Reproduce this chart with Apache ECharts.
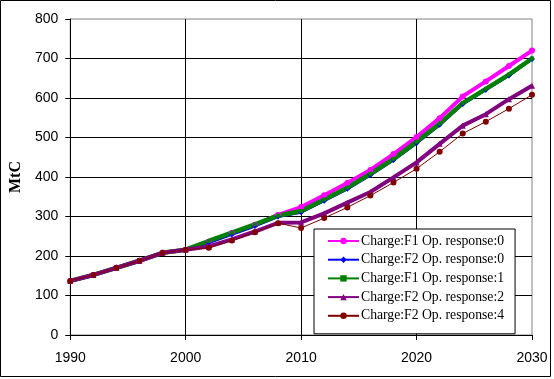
<!DOCTYPE html>
<html>
<head>
<meta charset="utf-8">
<script src="https://cdn.jsdelivr.net/npm/echarts@6/dist/echarts.min.js"></script>
<style>
html,body{margin:0;padding:0;background:#fff;}
#c{width:554px;height:379px;}
</style>
</head>
<body>
<div id="c"></div>
<script>
const years = [1990,1992,1994,1996,1998,2000,2002,2004,2006,2008,2010,2012,2014,2016,2018,2020,2022,2024,2026,2028,2030];
const seriesNames = ['Charge:F1 Op. response:0','Charge:F2 Op. response:0','Charge:F1 Op. response:1','Charge:F2 Op. response:2','Charge:F2 Op. response:4'];
const f1r0 = [137,152,170,188,208,216,236,258,279,304,324,354,385,418,458,501,549,604,642,681,720];
const f2r0 = [137,152,170,188,208,216,234,255,276,300,311,340,370,405,443,486,532,585,621,657,699];
const f1r1 = [137,152,170,188,208,216,238,259,280,302,314,343,373,408,446,489,535,587,623,659,700];
const f2r2 = [137,152,170,188,208,216,224,242,262,284,285,308,335,362,399,437,484,530,559,597,631];
const f2r4 = [137,152,170,188,208,216,221,239,260,283,271,296,323,353,386,421,464,510,540,573,608];
const yTicks = [0,100,200,300,400,500,600,700,800];
const xTicks = [1990,2000,2010,2020,2030];

const pairs = v => years.map((y,i)=>[y,v[i]]);
const chart = echarts.init(document.getElementById('c'));
const styles = [
  {color:'#FF00FF', w:4, sym:'circle', size:6},
  {color:'#0000FF', w:3, sym:'diamond', size:6},
  {color:'#008000', w:4.5, sym:'rect', size:4},
  {color:'#800080', w:4, sym:'triangle', size:6},
  {color:'#800000', w:1, sym:'circle', size:6}
];
const data = [f1r0,f2r0,f1r1,f2r2,f2r4];
chart.setOption({
  animation:false,
  backgroundColor:'#fff',
  grid:{left:64,top:19,width:468,height:316,show:true,borderColor:'#808080',borderWidth:1,backgroundColor:'transparent'},
  xAxis:{type:'value',min:xTicks[0],max:xTicks[xTicks.length-1],interval:10,
    axisLine:{lineStyle:{color:'#000',width:1}},
    axisTick:{show:true,length:5,lineStyle:{color:'#000'}},
    axisLabel:{color:'#000',fontFamily:'Liberation Sans',fontSize:14,margin:16,formatter:v=>String(v)},
    splitLine:{show:true,showMinLine:false,showMaxLine:false,lineStyle:{color:'#000',width:1}}},
  yAxis:{type:'value',min:yTicks[0],max:yTicks[yTicks.length-1],interval:100,
    name:'MtC',nameLocation:'middle',nameGap:36,
    nameTextStyle:{fontFamily:'Liberation Serif',fontWeight:'bold',fontSize:16,color:'#000'},
    axisLine:{show:true,lineStyle:{color:'#000',width:1}},
    axisTick:{show:true,length:5,lineStyle:{color:'#000'}},
    axisLabel:{color:'#000',fontFamily:'Liberation Sans',fontSize:14,margin:12},
    splitLine:{show:true,showMinLine:false,showMaxLine:false,lineStyle:{color:'#000',width:1}}},
  legend:{orient:'vertical',left:314,top:229,itemWidth:31,itemHeight:8,itemGap:4.7,
    padding:[5,11,11,13],borderColor:'#000',borderWidth:1,backgroundColor:'#fff',
    textStyle:{fontFamily:'Liberation Serif',fontSize:13.7,lineHeight:14,color:'#000',padding:[0,0,0,-3]},
    data:seriesNames},
  graphic:[{type:'rect',shape:{x:0.5,y:0.5,width:550,height:376},style:{fill:'none',stroke:'#000',lineWidth:1},z:100}],
  series:data.map((d,i)=>({
    name:seriesNames[i],type:'line',data:pairs(d),
    symbol:styles[i].sym,symbolSize:styles[i].size,showSymbol:true,
    lineStyle:{color:styles[i].color,width:styles[i].w},
    itemStyle:{color:styles[i].color,borderWidth:0},
    emphasis:{disabled:true}
  }))
});
</script>
</body>
</html>
